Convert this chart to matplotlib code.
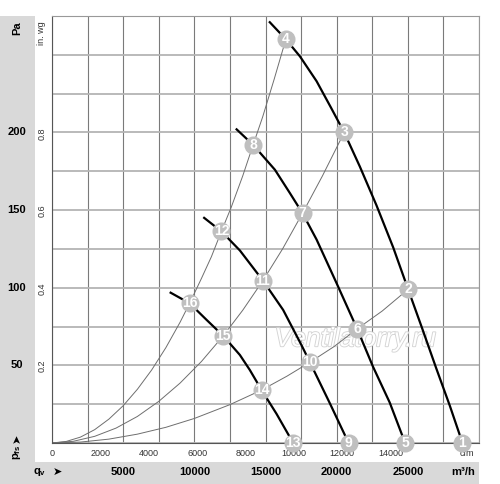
import matplotlib
matplotlib.use("Agg")
import matplotlib.pyplot as plt
import matplotlib.patheffects as pe
from matplotlib.patches import Rectangle
from matplotlib.transforms import blended_transform_factory
import numpy as np

plt.rcParams['font.family'] = ['Liberation Sans', 'DejaVu Sans']
plt.rcParams['mathtext.fontset'] = 'custom'
plt.rcParams['mathtext.rm'] = 'Liberation Sans'
plt.rcParams['mathtext.bf'] = 'Liberation Sans:bold'

# fan curves (m3/h, Pa), four speeds
fan_a_q = [15300, 16430, 17420, 18590, 19600, 20530, 21630, 22800, 23970, 25020, 26000, 27000, 27950, 28840]
fan_a_p = [271, 260, 249, 233, 216, 200, 178, 153, 126, 99, 74, 48, 24, 0]
fan_b_q = [12970, 14130, 15660, 16710, 17600, 18590, 19990, 21440, 22560, 23730, 24810]
fan_b_p = [202, 192, 176, 161, 148, 131, 103, 73.5, 49, 26, 0]
fan_c_q = [10690, 11900, 13200, 14820, 16240, 17530, 18120, 19520, 20840]
fan_c_p = [145, 136.3, 124, 104.6, 85.7, 63, 52, 25.6, 0]
fan_d_q = [8335, 9670, 10860, 12030, 13200, 13900, 14726, 15780, 16945]
fan_d_p = [96.8, 90, 79.3, 69, 56.7, 47, 34.1, 18.7, 0]

# system curves
sys_1_q = [0, 1000, 2000, 3000, 4000, 5000, 6000, 7000, 8000, 9000, 9670, 10500, 11200, 11900,
           12600, 13400, 14130, 14800, 15600, 16430]
sys_1_p = [0, 1, 3.8, 8.6, 15.4, 24, 34.6, 47, 61.4, 77.8, 90, 106, 120, 136.3,
           152, 172, 192, 210, 234, 260]
sys_2_q = [0, 1500, 3000, 4500, 6000, 7500, 9000, 10500, 12030, 13400, 14820, 16200, 17600, 19000, 20530]
sys_2_p = [0, 1.1, 4.3, 9.6, 17.1, 26.8, 38.6, 52.5, 69, 85.5, 104.6, 125, 148, 172, 200]
sys_3_q = [0, 2000, 4000, 6000, 8000, 10000, 12500, 14726, 16500, 18120, 19800, 21440, 23200, 25020]
sys_3_p = [0, 0.6, 2.5, 5.7, 10.1, 15.8, 24.7, 34.1, 43, 52, 62, 73.5, 85, 99]

# numbered operating points
pt_ids = [1, 2, 3, 4, 5, 6, 7, 8, 9, 10, 11, 12, 13, 14, 15, 16]
pt_q = [28840, 25020, 20530, 16430, 24810, 21440, 17600, 14130, 20840, 18120, 14820, 11900, 16945, 14726, 12030, 9670]
pt_p = [0, 99, 200, 260, 0, 73.5, 148, 192, 0, 52, 104.6, 136.3, 0, 34.1, 69, 90]

pa_labels = [50, 100, 150, 200]
inwg_labels = [0.2, 0.4, 0.6, 0.8]
m3h_labels = [5000, 10000, 15000, 20000, 25000]
cfm_labels = [0, 2000, 4000, 6000, 8000, 10000, 12000, 14000]

W, H = 500, 484
fig = plt.figure(figsize=(5, 4.84), dpi=100)
ax = fig.add_axes([52 / W, 1 - 443 / H, 427 / W, 427 / H])

gray = '#d9d9d9'
fig.patches.append(Rectangle((0, 0), 35 / W, 1 - 16 / H, transform=fig.transFigure,
                             facecolor=gray, edgecolor='none', zorder=-1))
fig.patches.append(Rectangle((0, 0), 479 / W, 22 / H, transform=fig.transFigure,
                             facecolor=gray, edgecolor='none', zorder=-1))

ax.set_xlim(0, 30000)
ax.set_ylim(0, 275)
ax.set_xticks(np.arange(0, 30001, 2500))
ax.set_yticks(np.arange(0, 276, 25))
ax.tick_params(length=0, labelleft=False, labelbottom=False)
ax.set_axisbelow(True)
ax.grid(axis='x', color='#7a7a7a', lw=0.8)
ax.grid(axis='y', color='#b4b4b4', lw=1.3)
for s in ['top', 'right']:
    ax.spines[s].set_color('#999999')
for s in ['left', 'bottom']:
    ax.spines[s].set_color('#555555')

# watermark
ax.text(0.71, 0.243, 'Ventilatorry.ru', transform=ax.transAxes, fontsize=19,
        style='italic', color='white', ha='center', va='center', zorder=1.5,
        path_effects=[pe.withStroke(linewidth=1.3, foreground='#d4d4d4')])

for q, p in [(sys_1_q, sys_1_p), (sys_2_q, sys_2_p), (sys_3_q, sys_3_p)]:
    ax.plot(q, p, color='#6e6e6e', lw=0.7, zorder=2)

for q, p in [(fan_a_q, fan_a_p), (fan_b_q, fan_b_p), (fan_c_q, fan_c_p), (fan_d_q, fan_d_p)]:
    ax.plot(q, p, color='black', lw=1.6, zorder=3, clip_on=False)

ax.plot(pt_q, pt_p, 'o', ms=13, color='#bfbfbf', mec='none', zorder=5, clip_on=False)
for i, q, p in zip(pt_ids, pt_q, pt_p):
    ax.text(q, p, str(i), color='white', fontsize=10, fontweight='bold',
            family=['Liberation Sans Narrow', 'Liberation Sans'],
            ha='center', va='center', zorder=6, clip_on=False)

# left labels
ty = blended_transform_factory(fig.transFigure, ax.transData)
for v in pa_labels:
    ax.text(17 / W, v, str(v), transform=ty, fontsize=8, fontweight='bold',
            ha='center', va='center', clip_on=False, zorder=1)
for v in inwg_labels:
    ax.text(42 / W, v * 249, str(v), transform=ty, fontsize=6.5, rotation=90,
            ha='center', va='center', color='#333333', clip_on=False, zorder=1)
ax.text(17 / W, 1 - 28 / H, 'Pa', transform=fig.transFigure, fontsize=8, fontweight='bold',
        rotation=90, ha='center', va='center', clip_on=False)
ax.text(42 / W, 1 - 33 / H, 'in. wg', transform=fig.transFigure, fontsize=6.5,
        rotation=90, ha='center', va='center', color='#333333', clip_on=False)
ax.text(17 / W, 1 - 452 / H, r'$\mathbf{p_{fs}}$', transform=fig.transFigure, fontsize=8,
        rotation=90, ha='center', va='center', clip_on=False)
ax.text(17 / W, 1 - 438 / H, '➤', transform=fig.transFigure, fontsize=8,
        rotation=90, ha='center', va='center', clip_on=False)

# bottom labels
tx = blended_transform_factory(ax.transData, fig.transFigure)
for v in cfm_labels:
    ax.text(v * 1.699, 1 - 453 / H, str(v), transform=tx, fontsize=6.5,
            ha='center', va='center', color='#333333', clip_on=False, zorder=1)
ax.text(467 / W, 1 - 454 / H, 'cfm', transform=fig.transFigure, fontsize=6.5,
        ha='center', va='center', color='#333333', clip_on=False, zorder=1)
for v in m3h_labels:
    ax.text(v, 1 - 472 / H, str(v), transform=tx, fontsize=8, fontweight='bold',
            ha='center', va='center', clip_on=False, zorder=1)
ax.text(463 / W, 1 - 472 / H, 'm³/h', transform=fig.transFigure, fontsize=8,
        fontweight='bold', ha='center', va='center', clip_on=False)
ax.text(40 / W, 1 - 472 / H, r'$\mathbf{q_v}$', transform=fig.transFigure, fontsize=8,
        ha='center', va='center', clip_on=False)
ax.text(57 / W, 1 - 472 / H, '➤', transform=fig.transFigure, fontsize=8,
        ha='center', va='center', clip_on=False)

fig.savefig('out.png', dpi=100)
